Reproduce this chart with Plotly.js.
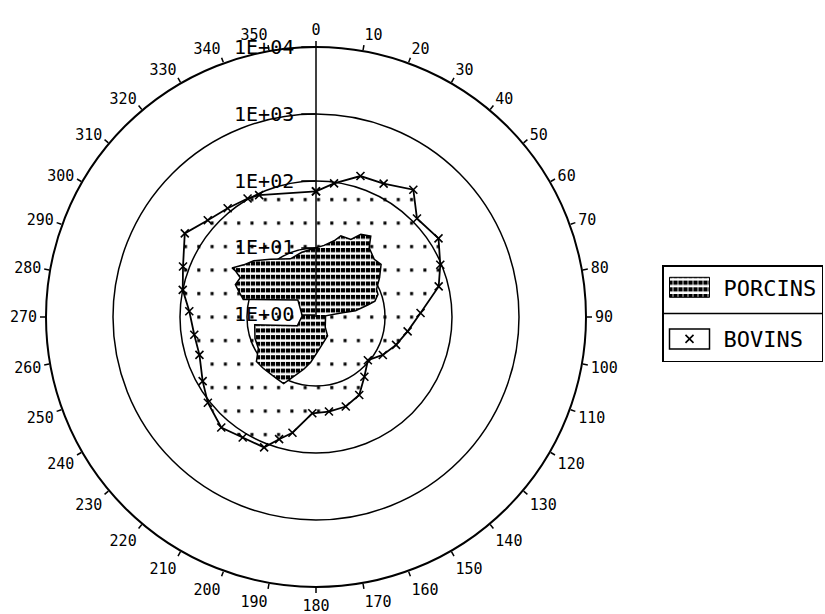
<!DOCTYPE html>
<html>
<head>
<meta charset="utf-8">
<script src="https://cdn.plot.ly/plotly-3.0.1.min.js"></script>
<style>
  html, body { margin: 0; padding: 0; background: #ffffff; }
  #chart { width: 825px; height: 614px; }
</style>
</head>
<body>
<div id="chart"></div>
<script>
// ---- data ----
const angleTickVals = [0,10,20,30,40,50,60,70,80,90,100,110,120,130,140,150,160,170,180,190,200,210,220,230,240,250,260,270,280,290,300,310,320,330,340,350];
const angleTickText = ["0","10","20","30","40","50","60","70","80","90","100","110","120","130","140","150","160","170","180","190","200","210","220","230","240","250","260","270","280","290","300","310","320","330","340","350"];
const radialTickVals = [1, 10, 100, 1000, 10000];
const radialTickText = ["1E+00", "1E+01", "1E+02", "1E+03", "1E+04"];

const seriesNames = ["PORCINS", "BOVINS"];

const bovinsTheta = [0, 7.7, 17.5, 26.9, 37.4, 45.7, 57.3, 67.2, 76, 87.8, 98.9, 109.2, 119.6, 129.8, 141, 151, 161.6, 172.2, 182.2, 191.5, 196.8, 201.7, 211.3, 220.6, 231.6, 240.5, 252, 261.7, 272.6, 281.5, 290.8, 302.5, 311.8, 320.9, 330, 335, 0];
const bovinsR = [70, 96, 150, 159, 230, 119, 139, 96, 72, 34, 22.6, 17.2, 13.1, 9.5, 13.1, 20, 23.9, 24.8, 25.6, 54, 75, 116, 119, 139, 107, 82, 63, 64, 73, 100, 124, 196, 137, 115, 103, 95, 70];

const porcinsTheta = [356.6, 6.4, 13.4, 17, 24.2, 28.5, 34.1, 37.5, 45.3, 51, 58.2, 65.4, 70, 74.9, 76.8, 81, 81, 83, 138, 148.6, 174.5, 186.8, 193.2, 202.5, 205.9, 212.6, 225.6, 233.3, 241.5, 250.8, 262.7, 244.8, 274.8, 313.3, 283.5, 288.7, 291.9, 297.4, 299.8, 300.3, 305.8, 312.1, 321.7, 336.2, 347.7, 356.6];
const porcinsR = [9.7, 11.1, 13.8, 17.3, 17.4, 23.6, 26.8, 18.8, 15.6, 16.6, 12.2, 9.2, 9.0, 7.6, 5.9, 3.7, 2.35, 1.3, 1.5, 2.0, 2.86, 4.5, 5.9, 9.3, 11.9, 11.5, 11.7, 12.0, 8.9, 8.6, 7.8, 1.9, 1.5, 2.2, 12.2, 15.5, 18.5, 17.5, 22.7, 26.4, 20, 16.7, 11.7, 8.3, 9.1, 9.7];

const FONT = "DejaVu Sans Mono, Liberation Mono, monospace";

const traces = [
  {
    type: "scatterpolar",
    name: seriesNames[1],
    theta: bovinsTheta,
    r: bovinsR,
    mode: "lines+markers",
    line: { color: "#000000", width: 1.8 },
    marker: { symbol: "x-thin", size: 8, line: { color: "#000000", width: 1.6 }, color: "#000000" },
    fill: "toself",
    fillcolor: "rgba(255,255,255,0)",
    legendrank: 2,
    legendgroup: "b",
    hoverinfo: "skip"
  },
  {
    type: "scatterpolar",
    name: seriesNames[0],
    theta: porcinsTheta,
    r: porcinsR,
    mode: "lines",
    line: { color: "#000000", width: 1.5 },
    fill: "toself",
    fillcolor: "#000000",
    legendrank: 1,
    legendgroup: "p",
    hoverinfo: "skip"
  }
];

const layout = {
  width: 825,
  height: 614,
  margin: { l: 0, r: 0, t: 0, b: 0 },
  paper_bgcolor: "#ffffff",
  font: { family: FONT, size: 15, color: "#000000" },
  showlegend: true,
  legend: {
    x: 662 / 825, y: 1 - 265 / 614, xanchor: "left", yanchor: "top",
    bgcolor: "#ffffff", bordercolor: "#000000", borderwidth: 1.5,
    font: { family: FONT, size: 22, color: "#000000" },
    itemwidth: 50,
    traceorder: "grouped", tracegroupgap: 20
  },
  polar: {
    domain: { x: [46 / 825, 586 / 825], y: [27 / 614, 567 / 614] },
    bgcolor: "#ffffff",
    angularaxis: {
      rotation: 90,
      direction: "clockwise",
      tickmode: "array",
      tickvals: angleTickVals,
      ticktext: angleTickText,
      ticks: "outside",
      ticklen: 5,
      tickwidth: 1.5,
      tickcolor: "#000000",
      showline: true,
      linecolor: "#000000",
      linewidth: 2,
      showgrid: false,
      tickfont: { family: FONT, size: 15, color: "#000000" }
    },
    radialaxis: {
      type: "log",
      range: [-0.03, 4],
      angle: 90,
      side: "counterclockwise",
      tickmode: "array",
      tickvals: radialTickVals,
      ticktext: radialTickText,
      ticks: "outside",
      ticklen: 14,
      tickwidth: 1.5,
      tickcolor: "#000000",
      tickangle: 90,
      showline: true,
      linecolor: "#000000",
      linewidth: 1.5,
      showgrid: true,
      gridcolor: "#000000",
      gridwidth: 1.5,
      tickfont: { family: FONT, size: 20, color: "#000000" }
    }
  }
};

function addPatterns(gd) {
  const NS = "http://www.w3.org/2000/svg";
  const svgs = gd.querySelectorAll("svg.main-svg");
  const svg = svgs[0];
  const topSvg = svgs[svgs.length - 1];
  let defs = svg.querySelector("defs");
  if (!defs) { defs = document.createElementNS(NS, "defs"); svg.insertBefore(defs, svg.firstChild); }
  // dotted pattern (BOVINS)
  const pd = document.createElementNS(NS, "pattern");
  pd.setAttribute("id", "patDots");
  pd.setAttribute("patternUnits", "userSpaceOnUse");
  pd.setAttribute("width", "13.3");
  pd.setAttribute("height", "23.5");
  const c = document.createElementNS(NS, "rect");
  c.setAttribute("x", "5"); c.setAttribute("y", "10");
  c.setAttribute("width", "3"); c.setAttribute("height", "3.2");
  c.setAttribute("fill", "#000000");
  pd.appendChild(c);
  defs.appendChild(pd);
  // hatch pattern (PORCINS)
  const ph = document.createElementNS(NS, "pattern");
  ph.setAttribute("id", "patHatch");
  ph.setAttribute("patternUnits", "userSpaceOnUse");
  ph.setAttribute("width", "5");
  ph.setAttribute("height", "6.7");
  const bg = document.createElementNS(NS, "rect");
  bg.setAttribute("width", "5"); bg.setAttribute("height", "6.7"); bg.setAttribute("fill", "#ffffff");
  const h = document.createElementNS(NS, "rect");
  h.setAttribute("x", "0"); h.setAttribute("y", "0");
  h.setAttribute("width", "4.2"); h.setAttribute("height", "4.2");
  h.setAttribute("fill", "#000000");
  ph.appendChild(bg); ph.appendChild(h);
  defs.appendChild(ph);

  const patByName = {};
  patByName[seriesNames[0]] = "url(#patHatch)";
  patByName[seriesNames[1]] = "url(#patDots)";

  // plot fills
  gd.querySelectorAll(".polarlayer g.trace").forEach(function (g, i) {
    const fill = g.querySelector("path.js-fill");
    if (!fill) return;
    const name = gd.data[i] ? gd.data[i].name : null;
    if (name && patByName[name]) { fill.style.fill = patByName[name]; fill.style.fillOpacity = 1; }
  });
  // legend swatches: boxed symbols like the reference
  const items = [];
  gd.querySelectorAll(".legend g.traces").forEach(function (g) {
    const t = g.querySelector("text.legendtext");
    const name = t ? t.textContent : "";
    const f = g.querySelector(".legendfill path");
    if (f) {
      f.setAttribute("d", "M6,-10h40v20h-40Z");
      if (name === seriesNames[0]) {
        f.style.fill = "url(#patHatch)"; f.style.fillOpacity = 1;
        f.style.stroke = "#000000"; f.style.strokeWidth = "1px";
      } else {
        f.style.fill = "#ffffff"; f.style.fillOpacity = 1;
        f.style.stroke = "#000000"; f.style.strokeWidth = "1.5px";
      }
    }
    g.querySelectorAll(".legendlines path").forEach(function (p) { p.style.display = "none"; });
    // centre the marker inside the box
    g.querySelectorAll(".legendpoints path").forEach(function (p) {
      p.setAttribute("transform", "translate(26,0)");
    });
    items.push(g);
  });
  // divider between the two legend rows
  const bgRect = gd.querySelector(".legend rect.bg");
  if (bgRect && items.length === 2) {
    const b = bgRect.getBoundingClientRect();
    const r1 = items[0].getBoundingClientRect();
    const r2 = items[1].getBoundingClientRect();
    const y = Math.round((r1.bottom + r2.top) / 2) + 0.5;
    const ln = document.createElementNS(NS, "line");
    ln.setAttribute("x1", b.left); ln.setAttribute("x2", b.right);
    ln.setAttribute("y1", y); ln.setAttribute("y2", y);
    ln.setAttribute("stroke", "#000000"); ln.setAttribute("stroke-width", "1.5");
    topSvg.appendChild(ln);
  }
}

Plotly.newPlot("chart", traces, layout, { staticPlot: true, displayModeBar: false }).then(addPatterns);
</script>
</body>
</html>
